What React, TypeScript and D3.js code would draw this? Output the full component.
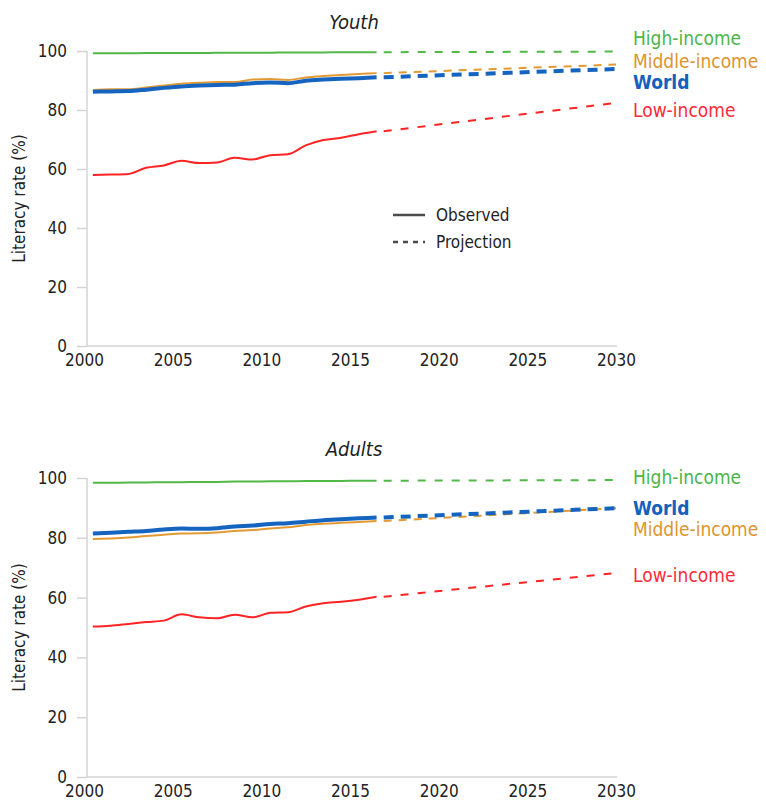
import React, { useEffect, useRef } from "react";
import { select, scaleLinear, line, axisLeft, axisBottom, curveMonotoneX } from "d3";

// observed years (values are mid-year estimates)
const years = [2000, 2001, 2002, 2003, 2004, 2005, 2006, 2007, 2008, 2009, 2010, 2011, 2012, 2013, 2014, 2015, 2016];
const projectionYear = 2030;
const xTicks = [2000, 2005, 2010, 2015, 2020, 2025, 2030];
const yTicks = [0, 20, 40, 60, 80, 100];

const groups = ["High-income", "Middle-income", "World", "Low-income"];

// Youth
const youthHigh = [99.2, 99.2, 99.2, 99.3, 99.3, 99.3, 99.3, 99.4, 99.4, 99.4, 99.4, 99.5, 99.5, 99.5, 99.6, 99.6, 99.6];
const youthMiddle = [86.8, 87.0, 87.0, 87.6, 88.3, 88.9, 89.2, 89.5, 89.5, 90.3, 90.5, 90.2, 91.0, 91.5, 91.9, 92.2, 92.5];
const youthWorld = [86.2, 86.3, 86.4, 86.9, 87.5, 88.0, 88.3, 88.5, 88.6, 89.1, 89.3, 89.1, 89.9, 90.3, 90.6, 90.8, 91.1];
const youthLow = [58.0, 58.1, 58.3, 60.4, 61.2, 62.8, 62.0, 62.2, 63.8, 63.2, 64.7, 65.0, 68.0, 69.8, 70.6, 71.8, 72.8];
const youth2030 = [99.8, 95.4, 93.9, 82.4];

// Adults
const adultHigh = [98.4, 98.4, 98.5, 98.5, 98.6, 98.6, 98.7, 98.7, 98.8, 98.8, 98.9, 98.9, 99.0, 99.0, 99.0, 99.1, 99.1];
const adultMiddle = [79.6, 79.8, 80.1, 80.6, 81.0, 81.4, 81.5, 81.8, 82.3, 82.6, 83.1, 83.5, 84.3, 84.7, 85.0, 85.3, 85.6];
const adultWorld = [81.4, 81.7, 82.0, 82.3, 82.8, 83.1, 83.0, 83.2, 83.8, 84.1, 84.6, 84.9, 85.4, 85.9, 86.2, 86.5, 86.8];
const adultLow = [50.3, 50.6, 51.2, 51.8, 52.3, 54.4, 53.4, 53.1, 54.3, 53.4, 54.9, 55.1, 57.0, 58.1, 58.6, 59.3, 60.3];
const adult2030 = [99.3, 89.9, 89.9, 68.2];

const colors = {
  "High-income": "#52b848",
  "Middle-income": "#e49a33",
  World: "#1565c0",
  "Low-income": "#ff2424"
};
const textColors = {
  "High-income": "#4cb548",
  "Middle-income": "#dd9430",
  World: "#1560bd",
  "Low-income": "#ff2a3a"
};
const widths = { "High-income": 2, "Middle-income": 2, World: 4, "Low-income": 2 };
const dashes = { "High-income": "8,9", "Middle-income": "8,7", World: "10,7", "Low-income": "8,9" };

const font = "'Liberation Sans Narrow', 'DejaVu Sans Condensed', 'Noto Sans', sans-serif";

const panels = [
  { title: "Youth", top: 51, bottom: 346, legend: true, series: [youthHigh, youthMiddle, youthWorld, youthLow], end: youth2030, labelDy: [-13, -3, 13, 7] },
  { title: "Adults", top: 478, bottom: 777, legend: false, series: [adultHigh, adultMiddle, adultWorld, adultLow], end: adult2030, labelDy: [-3, 21, 0, 2] }
];

const App = () => {
  const svgRef = useRef();

  useEffect(() => {
    const svg = select(svgRef.current);
    svg.selectAll("*").remove();

    const xScale = scaleLinear().domain([2000, 2030]).range([84, 616]);
    const mid = 0.5;

    panels.forEach(p => {
      const g = svg.append("g");
      const yScale = scaleLinear().domain([0, 100]).range([p.bottom, p.top]);

      // y axis
      const yAxis = axisLeft(yScale).tickValues(yTicks).tickSize(10).tickPadding(10);
      const ya = g.append("g").attr("transform", "translate(87,0)").call(yAxis);
      ya.select(".domain").attr("stroke", "#d4d4d4").attr("stroke-width", 1.5).attr("d", `M0,${p.top}V${p.bottom}`);
      ya.selectAll(".tick line").attr("stroke", "#d4d4d4").attr("stroke-width", 1.5);
      ya.selectAll(".tick text").attr("font-size", 17).attr("font-family", font).attr("fill", "#222");

      // x axis
      const xAxis = axisBottom(xScale).tickValues(xTicks).tickFormat(d => String(d)).tickSize(0).tickPadding(8);
      const xa = g.append("g").attr("transform", `translate(0,${p.bottom})`).call(xAxis);
      xa.select(".domain").attr("stroke", "#d4d4d4").attr("stroke-width", 1.5).attr("d", "M87,0H617");
      xa.selectAll(".tick text").attr("font-size", 17).attr("font-family", font).attr("fill", "#222");

      // y label
      g.append("text")
        .attr("transform", `translate(25,${(p.top + p.bottom) / 2}) rotate(-90)`)
        .attr("text-anchor", "middle")
        .attr("font-size", 17).attr("font-family", font).attr("fill", "#222")
        .text("Literacy rate (%)");

      // title
      g.append("text")
        .attr("x", 354).attr("y", p.top - 22)
        .attr("text-anchor", "middle")
        .attr("font-size", 20).attr("font-style", "italic").attr("font-family", font).attr("fill", "#222")
        .text(p.title);

      const lineGen = line().x(d => xScale(d[0])).y(d => yScale(d[1]));
      const smoothGen = line().x(d => xScale(d[0])).y(d => yScale(d[1])).curve(curveMonotoneX);

      // draw order: high, low, middle, world on top
      [0, 3, 1, 2].forEach(k => {
        const key = groups[k];
        const vals = p.series[k];
        const obs = years.map((yr, i) => [yr + mid, vals[i]]);
        const proj = [[years[years.length - 1] + mid + 0.4, vals[vals.length - 1]], [projectionYear, p.end[k]]];
        g.append("path").attr("d", smoothGen(obs)).attr("fill", "none")
          .attr("stroke", colors[key]).attr("stroke-width", widths[key]).attr("stroke-linejoin", "round");
        g.append("path").attr("d", lineGen(proj)).attr("fill", "none")
          .attr("stroke", colors[key]).attr("stroke-width", widths[key]).attr("stroke-dasharray", dashes[key]);
      });

      // series labels
      groups.forEach((key, k) => {
        g.append("text")
          .attr("x", 633).attr("y", yScale(p.end[k]) + p.labelDy[k])
          .attr("dy", "0.35em")
          .attr("font-size", 19).attr("font-family", font)
          .attr("font-weight", key === "World" ? "bold" : "normal")
          .attr("fill", textColors[key])
          .text(key);
      });

      if (p.legend) {
        const items = [["Observed", null], ["Projection", "5,5"]];
        items.forEach(([label, dash], i) => {
          const y = 215 + i * 27;
          g.append("line").attr("x1", 393).attr("x2", 425).attr("y1", y).attr("y2", y)
            .attr("stroke", "#4a4a4a").attr("stroke-width", 2.5).attr("stroke-dasharray", dash);
          g.append("text").attr("x", 436).attr("y", y).attr("dy", "0.35em")
            .attr("font-size", 17).attr("font-family", font).attr("fill", "#222").text(label);
        });
      }
    });
  }, []);

  return (
    <svg ref={svgRef} width={766} height={806} style={{ position: "absolute", left: 0, top: 0, background: "#fff" }} />
  );
};

export default App;
